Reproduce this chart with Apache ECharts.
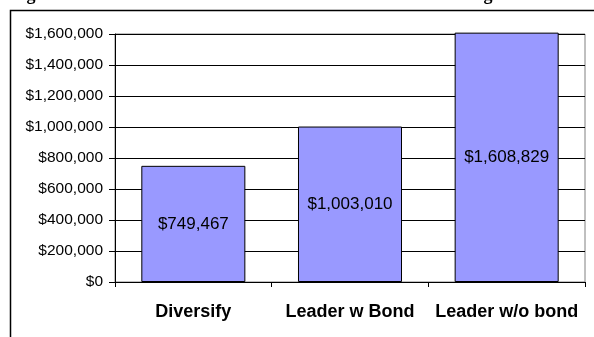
<!DOCTYPE html>
<html>
<head>
<meta charset="utf-8">
<script src="https://cdn.jsdelivr.net/npm/echarts@6/dist/echarts.min.js"></script>
<style>html,body{margin:0;padding:0;background:#fff;}#c{width:594px;height:337px;}</style>
</head>
<body>
<div id="c"></div>
<script>
const categories = ["Diversify", "Leader w Bond", "Leader w/o bond"];
const values = [749467, 1003010, 1608829];
const yTicks = [0, 200000, 400000, 600000, 800000, 1000000, 1200000, 1400000, 1600000];

function money(v) {
  return "$" + Math.round(v).toString().replace(/\B(?=(\d{3})+(?!\d))/g, ",");
}

const chart = echarts.init(document.getElementById("c"), null, {renderer: "canvas"});
chart.setOption({
  animation: false,
  backgroundColor: "#fff",
  textStyle: {fontFamily: "Liberation Sans, Arial, sans-serif"},
  grid: {left: 115, right: 9, top: 34, bottom: 55, show: true, borderColor: "#808080", borderWidth: 1, backgroundColor: "#fff"},
  graphic: [
    {type: "rect", shape: {x: 10.5, y: 10.5, width: 800, height: 600}, style: {fill: null, stroke: "#000", lineWidth: 1.5}, z: 100},
    {type: "text", x: 31, y: 4, style: {text: "g", font: "bold 18px 'Liberation Serif'", fill: "#000", align: "center", verticalAlign: "bottom"}, z: 100},
    {type: "text", x: 488, y: 4, style: {text: "g", font: "bold 18px 'Liberation Serif'", fill: "#000", align: "center", verticalAlign: "bottom"}, z: 100}
  ],
  xAxis: {
    type: "category",
    data: categories,
    axisLine: {show: true, lineStyle: {color: "#000", width: 1}},
    axisTick: {show: true, length: 5, inside: false, alignWithLabel: false, lineStyle: {color: "#000"}},
    axisLabel: {fontSize: 18, fontWeight: "bold", color: "#000", margin: 21, interval: 0, fontFamily: "Liberation Sans"},
    splitLine: {show: false}
  },
  yAxis: {
    type: "value",
    min: 0,
    max: yTicks[yTicks.length - 1],
    interval: yTicks[1] - yTicks[0],
    axisLine: {show: true, lineStyle: {color: "#000", width: 1}},
    axisTick: {show: true, length: 6, lineStyle: {color: "#000"}},
    axisLabel: {fontSize: 15.5, color: "#000", margin: 12, formatter: money, fontFamily: "Liberation Sans"},
    splitLine: {show: true, lineStyle: {color: "#000", width: 1}}
  },
  series: [{
    type: "bar",
    data: values,
    barCategoryGap: "33.6%",
    clip: false,
    itemStyle: {color: "#9999FF", borderColor: "#000", borderWidth: 1},
    label: {show: true, position: "inside", formatter: p => money(p.value), fontSize: 17, color: "#000", fontFamily: "Liberation Sans"}
  }]
});
</script>
</body>
</html>
